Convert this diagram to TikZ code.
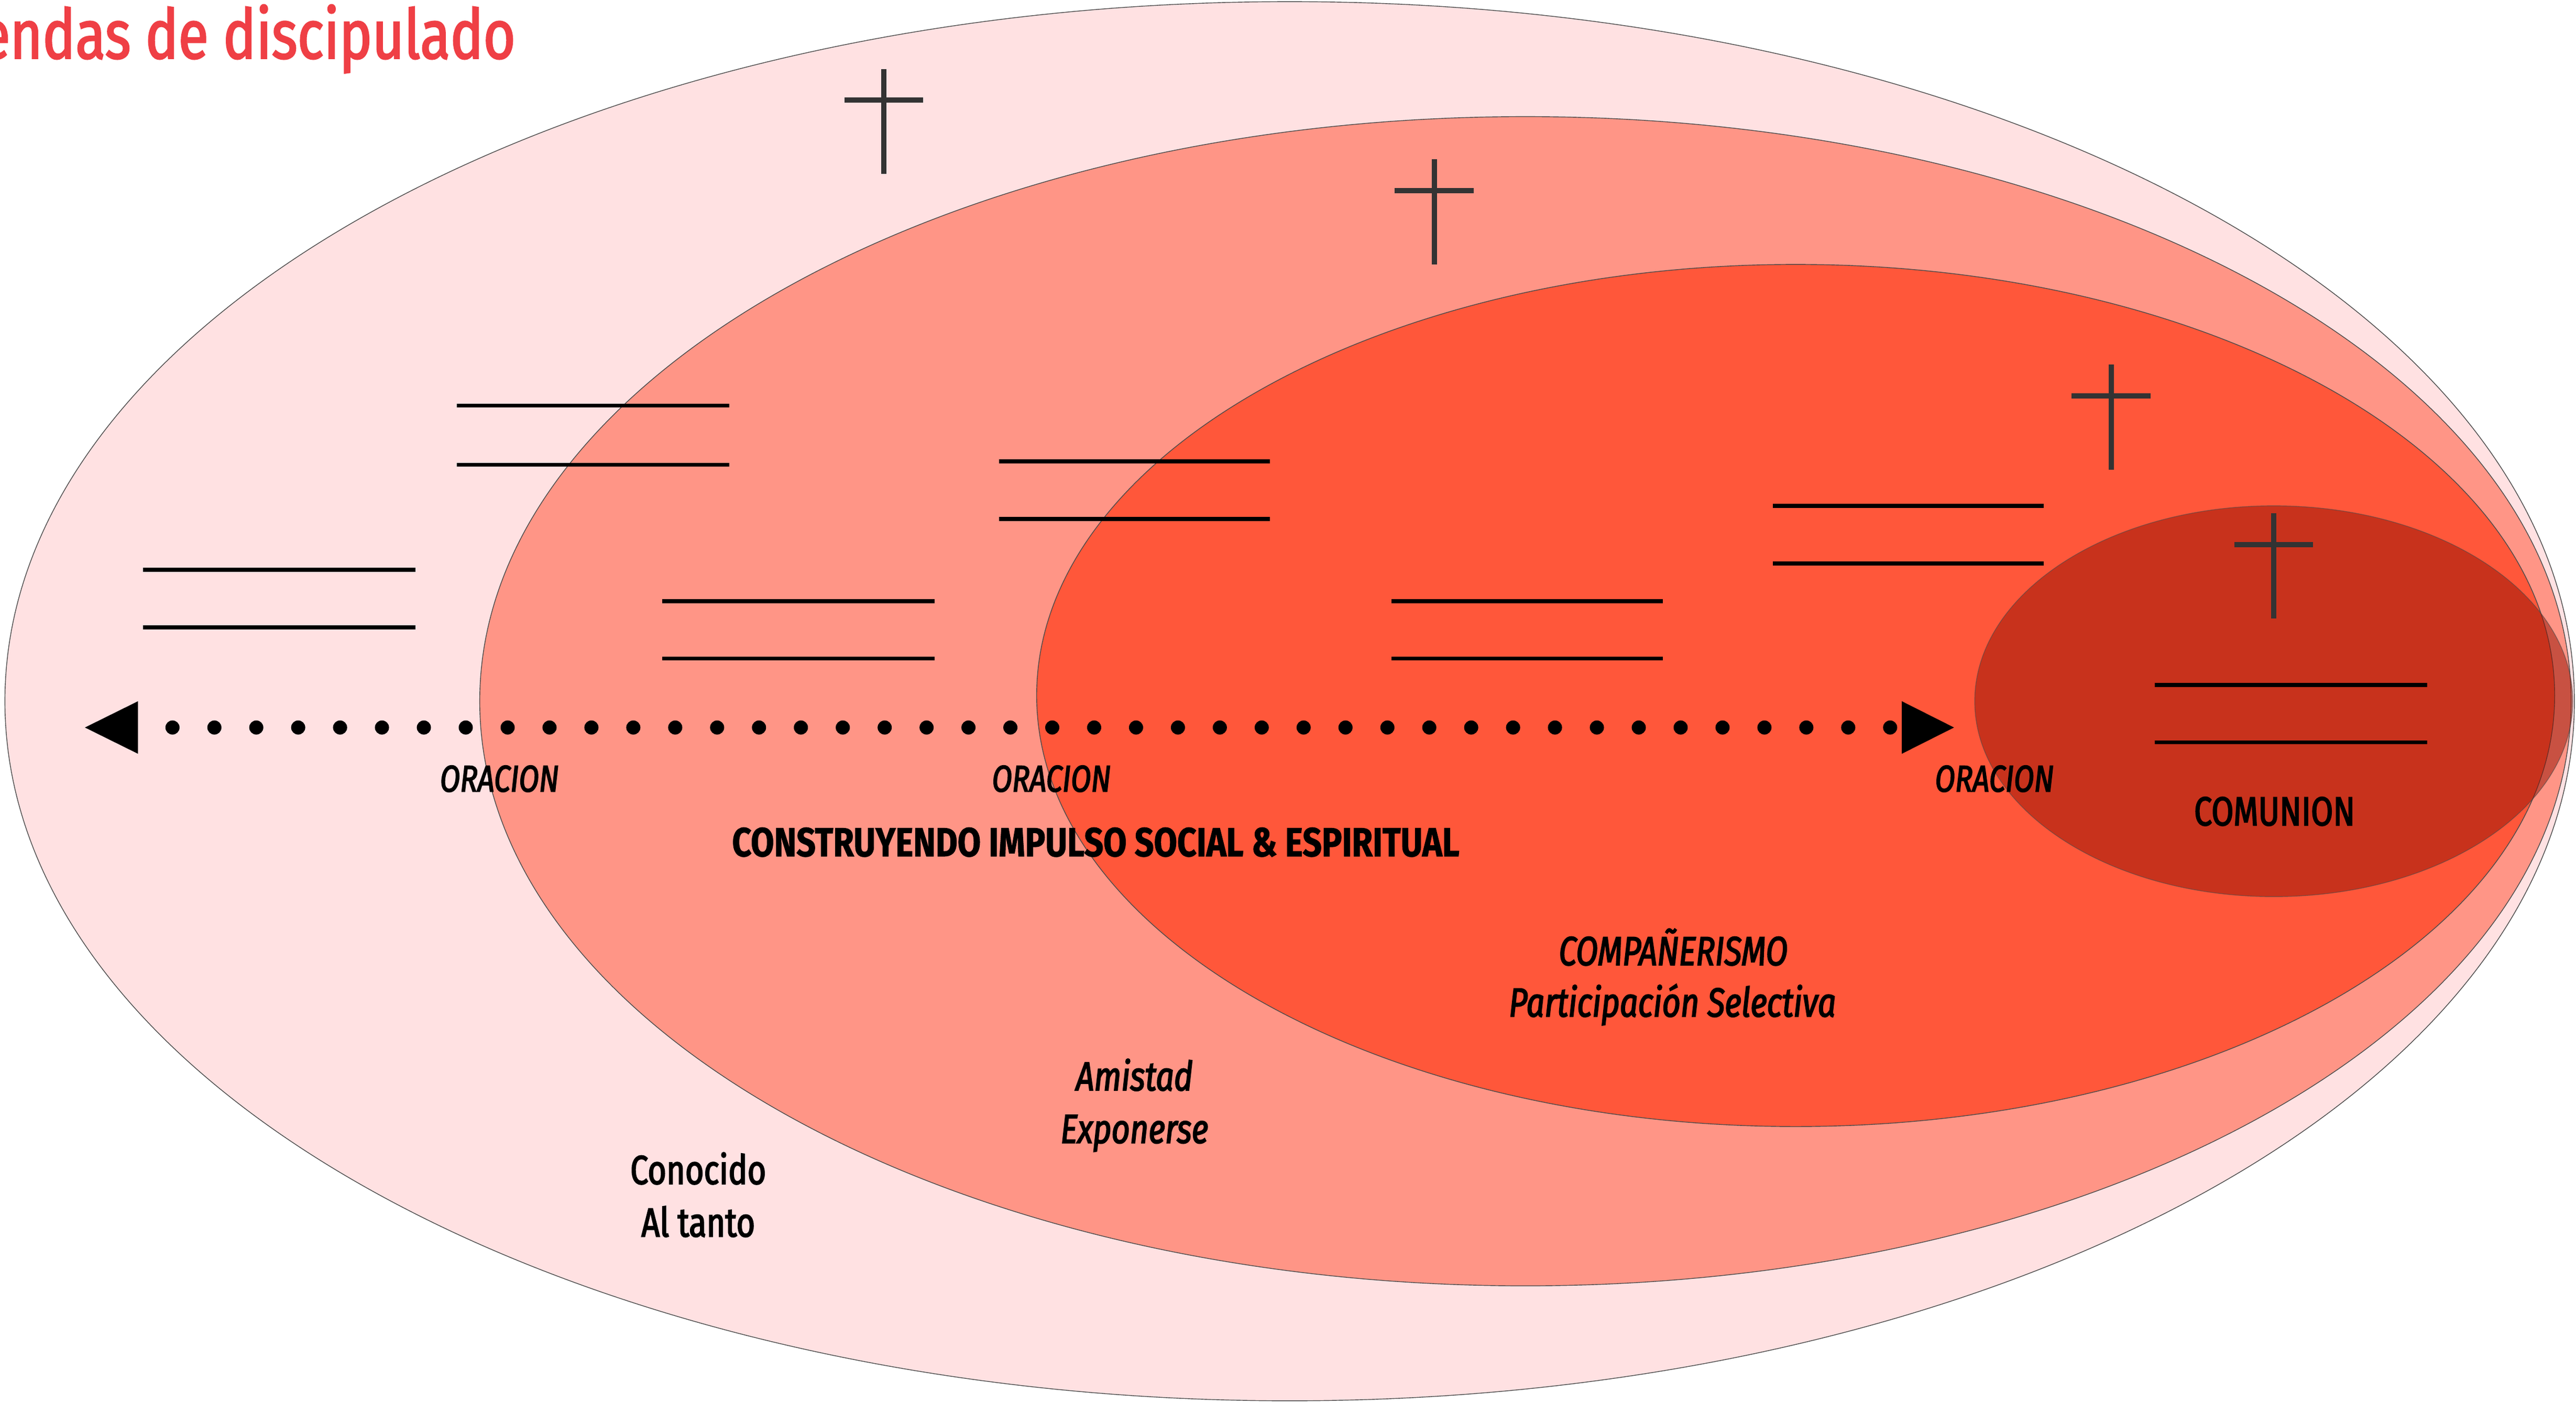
\documentclass[tikz,border=0pt]{standalone}
\usepackage{fontspec}
\setmainfont{Fira Sans}
\newfontfamily\demi{Fira Sans}[FakeStretch=0.79, FakeBold=2.6]
\newfontfamily\heavy{Fira Sans}[FakeStretch=0.83, FakeBold=1.2]
\newfontfamily\titlefont{Fira Sans}[FakeStretch=0.80, FakeBold=2]
\definecolor{pinkA}{HTML}{FFE1E2}
\definecolor{salmonB}{HTML}{FF9586}
\definecolor{redC}{HTML}{FF573A}
\definecolor{darkD}{RGB}{147,15,0}
\definecolor{rimgray}{HTML}{4A4A4A}
\definecolor{crossgray}{HTML}{333333}
\definecolor{titlered}{HTML}{EF3F45}
\newcommand{\drawcross}[2]{%
  \draw[crossbar] (#1,#2) -- (#1,#2+64);
  \draw[crossbar] (#1-24,#2+19) -- (#1+24,#2+19);}
\newcommand{\rulepair}[4]{%
  \draw[rulestroke] (#1,#3) -- (#2,#3);
  \draw[rulestroke] (#1,#4) -- (#2,#4);}
\begin{document}
\begin{tikzpicture}[x=1pt,y=-1pt,
  rim/.style={draw=rimgray, line width=0.45pt},
  crossbar/.style={draw=crossgray, line width=3.2pt},
  rulestroke/.style={draw=black, line width=2.5pt},
  dotline/.style={draw=black, line width=8.6pt, line cap=round, dash pattern=on 0pt off 25.5pt},
  lbl/.style={inner sep=0pt, anchor=base, text=black},
  demiup/.style={lbl, font=\demi\fontsize{24.7}{26}\selectfont},
  demiit/.style={lbl, font=\demi\itshape\fontsize{24.7}{26}\selectfont},
  oracion/.style={lbl, font=\demi\itshape\fontsize{22.6}{24}\selectfont},
  heavylbl/.style={lbl, font=\heavy\bfseries\fontsize{24.7}{26}\selectfont}]
\useasboundingbox (0,0) rectangle (1568,854.64);
\fill[white] (0,0) rectangle (1568,854.64);
% nested ellipses
\path[rim, fill=pinkA] (785,427) ellipse [x radius=782, y radius=426];
\path[rim, fill=salmonB] (928.5,427) ellipse [x radius=636.5, y radius=356];
\path[rim, fill=redC] (1093,423.5) ellipse [x radius=462, y radius=262.5];
\path[draw=rimgray, draw opacity=0.6, line width=0.45pt, fill=darkD, fill opacity=0.5] (1384,427) ellipse [x radius=182, y radius=119];
% title (cut at the left edge, as in the reference)
\node[anchor=base east, inner sep=0pt, text=titlered, font=\titlefont\fontsize{42}{44}\selectfont] (title) at (314,35.6) {endas de discipulado};
% crosses
\drawcross{538}{42}
\drawcross{873}{97}
\drawcross{1285}{222}
\drawcross{1384}{312.5}
% double rules
\rulepair{87}{253}{347}{382}
\rulepair{278}{444}{247}{283}
\rulepair{403}{569}{366}{401}
\rulepair{608}{773}{281}{316}
\rulepair{847}{1012}{366}{401}
\rulepair{1079}{1244}{308}{343}
\rulepair{1311.5}{1477.5}{417}{452}
% dotted double arrow
\coordinate (arrL) at (51.7,443);
\coordinate (arrR) at (1189.4,443);
\coordinate (dotA) at (105,443);
\coordinate (dotB) at (1151,443);
\draw[dotline] (dotA) -- (dotB);
\fill[black] (arrL) -- ++(32.3,-16) -- ++(0,32) -- cycle;
\fill[black] (arrR) -- ++(-31.8,-16) -- ++(0,32) -- cycle;
% labels
\node[oracion] (or1) at (304,482) {ORACION};
\node[oracion] (or2) at (640,482) {ORACION};
\node[oracion] (or3) at (1214,482) {ORACION};
\node[heavylbl] (impulso) at (667,521.4) {CONSTRUYENDO IMPULSO SOCIAL \& ESPIRITUAL};
\node[demiup] (comunion) at (1384.5,502.6) {COMUNION};
\node[demiit] (comp1) at (1018.5,587.7) {COMPAÑERISMO};
\node[demiit] (comp2) at (1018,619) {Participación Selectiva};
\node[demiit] (am1) at (690.5,664) {Amistad};
\node[demiit] (am2) at (690.5,696) {Exponerse};
\node[demiup] (co1) at (425,721) {Conocido};
\node[demiup] (co2) at (425,753) {Al tanto};
\end{tikzpicture}
\end{document}
